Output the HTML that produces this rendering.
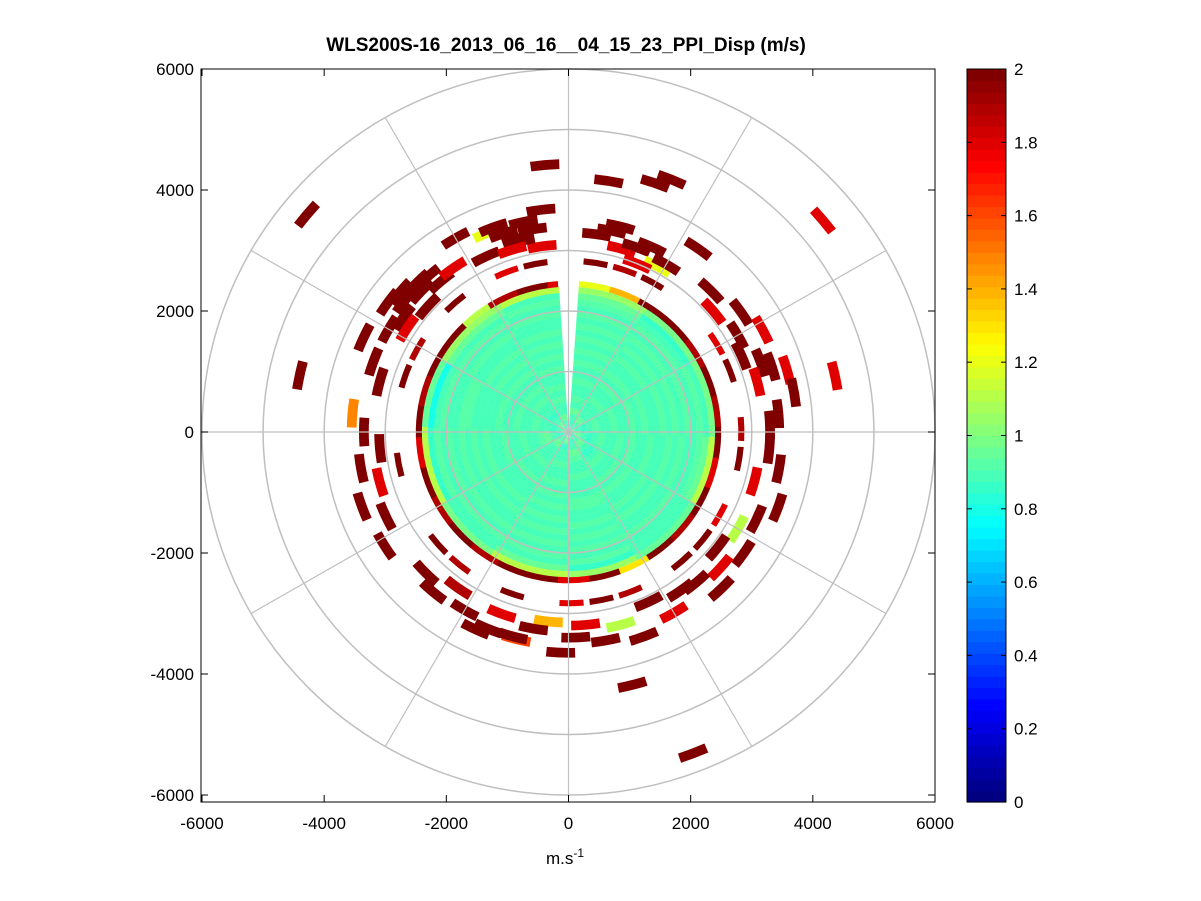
<!DOCTYPE html>
<html><head><meta charset="utf-8"><title>PPI Disp</title>
<style>
html,body{margin:0;padding:0;background:#fff;}
svg{display:block;font-family:"Liberation Sans",Arial,sans-serif;}
</style></head>
<body>
<svg id="chart" width="1201" height="901" viewBox="0 0 1201 901">
  <rect x="0" y="0" width="1201" height="901" fill="#fff"/>
  <text x="566" y="51" text-anchor="middle" font-size="19" font-weight="bold">WLS200S-16_2013_06_16__04_15_23_PPI_Disp (m/s)</text>
  <g id="data"></g>
  <g id="grid"></g>
  <g id="axes"></g>
  <g id="cbar"></g>
  <text x="565" y="864" text-anchor="middle" font-size="17">m.s<tspan dy="-7" font-size="12">-1</tspan></text>
</svg>
<script>
// ---- data ----
const axisTicks = [-6000, -4000, -2000, 0, 2000, 4000, 6000];
const cbarTicks = [0, 0.2, 0.4, 0.6, 0.8, 1, 1.2, 1.4, 1.6, 1.8, 2];
const gridRings = [1000, 2000, 3000, 4000, 5000, 6000];
const gridSpokes = [0, 30, 60, 90, 120, 150, 180, 210, 240, 270, 300, 330];
// inner disk: 24 range gates (100 m each) x 12 sectors (30 deg each, compass from north)
const diskVals = [
[0.9,0.85,0.95,0.9,0.8,0.95,1.0,0.85,0.9,0.95,0.9,0.85],
[0.85,0.9,0.9,0.95,0.9,0.85,0.95,0.9,0.85,0.9,0.95,0.9],
[0.9,0.95,0.85,0.9,0.95,0.9,0.85,0.95,0.9,0.85,0.9,0.95],
[0.95,0.9,0.9,0.85,0.9,0.95,0.9,0.9,0.95,0.9,0.85,0.9],
[0.9,0.88,0.92,0.9,0.87,0.93,0.9,0.88,0.92,0.9,0.9,0.88],
[0.92,0.9,0.88,0.93,0.9,0.9,0.92,0.9,0.88,0.93,0.9,0.92],
[0.88,0.93,0.9,0.9,0.92,0.88,0.9,0.93,0.9,0.88,0.92,0.9],
[0.9,0.9,0.93,0.88,0.9,0.92,0.88,0.9,0.93,0.9,0.88,0.93],
[0.93,0.88,0.9,0.92,0.88,0.9,0.93,0.88,0.9,0.92,0.93,0.9],
[0.9,0.92,0.88,0.9,0.93,0.9,0.9,0.92,0.88,0.9,0.9,0.88],
[0.88,0.9,0.92,0.93,0.9,0.88,0.92,0.9,0.93,0.88,0.9,0.92],
[0.92,0.93,0.9,0.88,0.92,0.93,0.9,0.88,0.9,0.93,0.92,0.9],
[0.9,0.88,0.93,0.9,0.9,0.92,0.93,0.9,0.88,0.9,0.88,0.93],
[0.93,0.9,0.9,0.92,0.88,0.9,0.88,0.93,0.92,0.9,0.93,0.9],
[0.9,0.92,0.88,0.9,0.93,0.9,0.92,0.9,0.9,0.88,0.9,0.92],
[0.92,0.9,0.93,0.88,0.9,0.93,0.9,0.92,0.93,0.9,0.92,0.88],
[0.88,0.93,0.9,0.92,0.92,0.88,0.93,0.9,0.88,0.92,0.9,0.93],
[0.93,0.9,0.92,0.9,0.88,0.92,0.9,0.88,0.92,0.93,0.88,0.9],
[0.9,0.92,0.9,0.93,0.9,0.9,0.92,0.93,0.9,0.9,0.92,0.9],
[0.92,0.88,0.93,0.9,0.92,0.93,0.88,0.9,0.92,0.88,0.9,0.92],
[0.9,0.93,0.9,0.88,0.9,0.9,0.93,0.92,0.9,0.93,0.92,0.9],
[0.93,0.9,0.92,0.93,0.88,0.92,0.9,0.9,0.93,0.9,0.9,0.93],
[0.95,0.85,0.9,0.95,0.9,0.85,0.95,0.9,0.85,0.8,0.95,0.9],
[1.05,1.0,1.0,1.1,0.95,1.05,1.1,1.0,1.1,0.95,1.05,1.1]
];
// edge ring 2400-2500 m, 12 deg steps starting at 4 deg
const edgeVals = [1.2,1.4,2,2,1.9,2,1.9,2,1.8,2,1.9,2,1.3,2,1.8,2,2,1.9,2,1.9,2,1.8,2,1.9,2,2,1.1,1.9,2,1.8];
// ring near 2850 m, 10 deg steps starting at 5 deg (0 = empty)
const ringVals = [2,1.9,2,0,0,1.8,2,0,1.9,2,0,1.8,2,2,0,1.9,2,1.8,0,2,0,1.9,2,0,0,2,0,0,2,1.9,0,2,0,1.8,2,1.9];
// scattered segments: azimuth (deg from north, clockwise), range (m), value (m/s)
const segAz = [355,9,19,22,310,50,282,78,74,159,166,202,194,238,
  300,305,310,315,320,303,312,318,325,330,335,338,306,309,314,
  342,345,348,352,350,346,340,343,353,
  8,12,16,20,24,28,14,22,30,35,
  45,50,55,60,62,66,70,72,75,80,85,88,
  95,100,105,110,115,120,125,128,132,136,140,
  145,150,155,160,165,170,175,178,182,186,
  190,195,200,205,210,215,220,225,
  245,250,255,260,265,270,275,285,290,295];
const segR = [4430,4200,4350,4500,5590,5440,4500,4460,3720,5690,4310,3510,3530,3550,
  3400,3300,3600,3500,3250,3150,3100,3450,3300,3700,3200,3550,3650,3450,3350,
  3450,3300,3550,3100,3400,3250,3600,3150,3700,
  3300,3400,3150,3250,3350,3100,3500,3000,3200,3700,
  3300,3100,3450,3200,3600,3100,3350,3500,3200,3750,3450,3300,
  3300,3500,3150,3650,3400,3200,3500,3100,3350,3600,3250,
  3200,3450,3100,3600,3300,3500,3200,3400,3650,3150,
  3300,3500,3200,3600,3400,3150,3450,3300,
  3300,3600,3200,3450,3100,3350,3550,3200,3400,3700];
const segVal = [2,2,2,2,2,1.8,2,1.8,1.8,2,2,2,1.6,2,
  2,2,2,2,2,1.8,2,2,1.8,2,2,1.2,2,2,2,
  2,2,2,1.8,2,2,2,1.8,2,
  2,2,1.8,2,2,1.2,2,1.8,2,2,
  2,1.8,2,2,1.8,2,2,2,1.8,2,2,2,
  2,2,1.8,2,2,1.1,2,2,1.8,2,2,
  2,1.8,2,2,1.1,2,1.8,2,2,1.4,
  2,2,1.8,2,2,1.9,2,2,
  2,2,1.8,2,2,2,1.5,2,2,2];

// ---- geometry ----
const CX = 568.5, CY = 432, SX = 366.5/6000, SY = 363/6000;
const NS = 'http://www.w3.org/2000/svg';
function px(v){ return CX + v*SX; }
function py(v){ return CY - v*SY; }
function jet(v){
  let x = Math.max(0, Math.min(1, v/2));
  x = Math.floor(x*63.999)/63;
  const c = t => Math.round(255*Math.max(0, Math.min(1, 1.5 - Math.abs(t))));
  return `rgb(${c(4*x-3)},${c(4*x-2)},${c(4*x-1)})`;
}
function pt(az, r){ const a = az*Math.PI/180; return [px(r*Math.sin(a)), py(r*Math.cos(a))]; }
function sector(az0, az1, r0, r1){
  const p1 = pt(az0,r1), p2 = pt(az1,r1), p3 = pt(az1,r0), p4 = pt(az0,r0);
  const R1x = r1*SX, R1y = r1*SY, R0x = r0*SX, R0y = r0*SY;
  return `M${p1[0]},${p1[1]}A${R1x},${R1y} 0 0 1 ${p2[0]},${p2[1]}L${p3[0]},${p3[1]}` +
    (r0 > 0 ? `A${R0x},${R0y} 0 0 0 ${p4[0]},${p4[1]}` : '') + 'Z';
}
function mk(tag, attrs, parent){
  const e = document.createElementNS(NS, tag);
  for (const k in attrs) e.setAttribute(k, attrs[k]);
  parent.appendChild(e); return e;
}
const dataG = document.getElementById('data');

// disk
for (let i = 0; i < diskVals.length; i++) {
  for (let az = 4; az < 356; az += 4) {
    const sIdx = Math.floor(az/30) % 12;
    const p = mk('path', {d: sector(az, az+4.3, i*100, (i+1)*100+2), fill: jet(diskVals[i][sIdx])}, dataG);
    
    
  }
}
// edge ring
for (let k = 0; k < edgeVals.length; k++) {
  const az = 4 + k*12;
  const e = Math.min(az+12.3, 356);
  const p = mk('path', {d: sector(az, e, 2400, 2500), fill: jet(edgeVals[k])}, dataG);
  
  
}
// outer ring
for (let k = 0; k < ringVals.length; k++) {
  if (!ringVals[k]) continue;
  const az = 5 + k*10;
  if (az > 352) continue;
  const p = mk('path', {d: sector(az, az+8, 2780, 2880), fill: jet(ringVals[k])}, dataG);
  
  
}
// scattered segments
for (let k = 0; k < segAz.length; k++) {
  const w = 4.5*3000/segR[k];
  const p = mk('path', {d: sector(segAz[k]-w, segAz[k]+w, segR[k]-80, segR[k]+80), fill: jet(segVal[k])}, dataG);
  
  
}

// grid
const gridG = document.getElementById('grid');
gridRings.forEach(r => {
  const c = mk('ellipse', {cx: CX, cy: CY, rx: r*SX, ry: r*SY, fill: 'none', stroke: '#bfbfbf', 'stroke-width': 1.5}, gridG);
  
  
});
gridSpokes.forEach(a => {
  const p = pt(a, 6000);
  const l = mk('line', {x1: CX, y1: CY, x2: p[0], y2: p[1], stroke: '#bfbfbf', 'stroke-width': 1.2}, gridG);
  
  
});

// axes
const axG = document.getElementById('axes');
const FL = 201, FR = 935, FT = 69, FB = 802;
const box = mk('rect', {x: FL, y: FT, width: FR-FL, height: FB-FT, fill: 'none', stroke: '#000', 'stroke-width': 1}, axG);


axisTicks.forEach(v => {
  const x = px(v), y = py(v);
  mk('line', {x1: x, y1: FB, x2: x, y2: FB-7, stroke: '#000'}, axG);
  mk('line', {x1: x, y1: FT, x2: x, y2: FT+7, stroke: '#000'}, axG);
  mk('line', {x1: FL, y1: y, x2: FL+7, y2: y, stroke: '#000'}, axG);
  mk('line', {x1: FR, y1: y, x2: FR-7, y2: y, stroke: '#000'}, axG);
  const tx = mk('text', {x: x, y: 829, 'text-anchor': 'middle', 'font-size': 17}, axG);
  tx.textContent = v;
  
  
  const ty = mk('text', {x: 194, y: y+6, 'text-anchor': 'end', 'font-size': 17}, axG);
  ty.textContent = v;
  
  
});

// colorbar
const cb = document.getElementById('cbar');
const CBX = 967, CBW = 39, CBT = 69, CBB = 802;
for (let i = 0; i < 64; i++) {
  const h = (CBB-CBT)/64;
  const r = mk('rect', {x: CBX, y: CBB-(i+1)*h, width: CBW, height: h+0.6, fill: jet((i+0.5)/64*2)}, cb);
  
  
}
mk('rect', {x: CBX, y: CBT, width: CBW, height: CBB-CBT, fill: 'none', stroke: '#000'}, cb);
cbarTicks.forEach(v => {
  const y = CBB - v/2*(CBB-CBT);
  mk('line', {x1: CBX, y1: y, x2: CBX+5, y2: y, stroke: '#000'}, cb);
  mk('line', {x1: CBX+CBW, y1: y, x2: CBX+CBW-5, y2: y, stroke: '#000'}, cb);
  const t = mk('text', {x: 1014, y: y+6, 'font-size': 17}, cb);
  t.textContent = v;
  
  
});
</script>
</body></html>
